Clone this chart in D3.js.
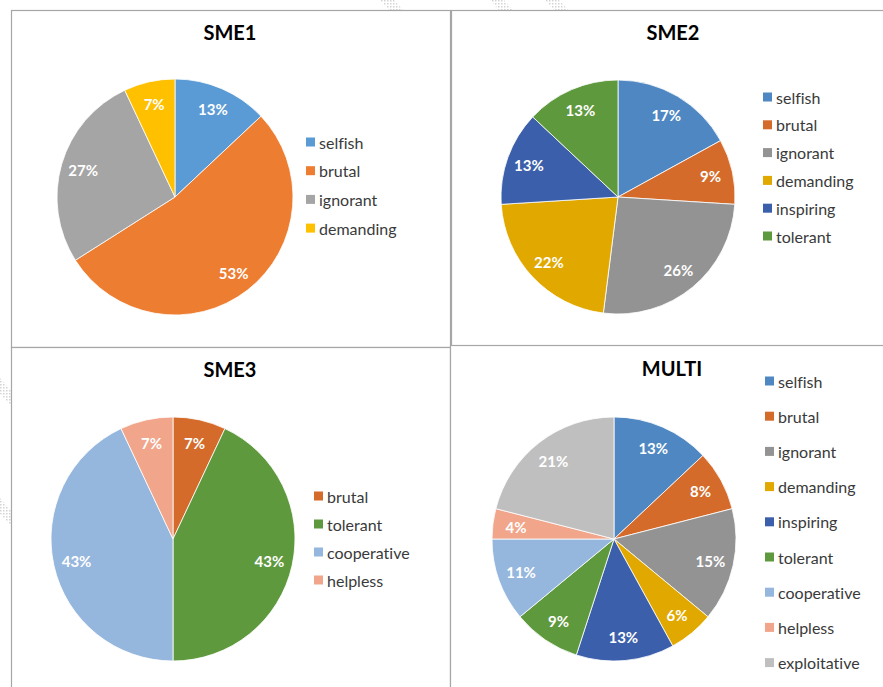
<!DOCTYPE html>
<html>
<head>
<meta charset="utf-8">
<script src="https://cdn.jsdelivr.net/npm/d3@7"></script>
<style>
  body { margin: 0; background: #fff; }
  svg { display: block; font-family: Lato, "Open Sans", sans-serif; font-variant-ligatures: none; }
</style>
</head>
<body>
<div id="chart"></div>
<script>
// Dữ liệu (phần trăm)
const sme1Labels = ['selfish', 'brutal', 'ignorant', 'demanding'];
const sme1Values = [13, 53, 27, 7];
const sme1Colors = ['#5B9BD5', '#ED7D31', '#A5A5A5', '#FFC000'];

const sme2Labels = ['selfish', 'brutal', 'ignorant', 'demanding', 'inspiring', 'tolerant'];
const sme2Values = [17, 9, 26, 22, 13, 13];

const sme3Labels = ['brutal', 'tolerant', 'cooperative', 'helpless'];
const sme3Values = [7, 43, 43, 7];

const multiLabels = ['selfish', 'brutal', 'ignorant', 'demanding', 'inspiring', 'tolerant', 'cooperative', 'helpless', 'exploitative'];
const multiValues = [13, 8, 15, 6, 13, 9, 11, 4, 21];

// Màu dùng cho SME2, SME3, MULTI
const darkColors = {
    selfish: '#4E87C2', brutal: '#D46B2B', ignorant: '#939393', demanding: '#E1A800',
    inspiring: '#3B5FAA', tolerant: '#5F993E', cooperative: '#95B6DD',
    helpless: '#F1A58A', exploitative: '#BFBFBF'
};

const W = 883, H = 687;
const svg = d3.select('#chart').append('svg')
    .attr('width', W).attr('height', H)
    .attr('viewBox', `0 0 ${W} ${H}`);

// Vân chéo mờ ở nền (watermark)
const pat = svg.append('defs').append('pattern')
    .attr('id', 'hatch').attr('width', 3).attr('height', 3)
    .attr('patternUnits', 'userSpaceOnUse');
pat.append('rect').attr('width', 3).attr('height', 3).attr('fill', '#fff');
pat.append('rect').attr('width', 1.5).attr('height', 1.5).attr('fill', '#d4d4d4');
const bands = [[380, 0], [490, 0], [545, 0], [-30, 360], [-30, 480]];
svg.append('g').selectAll('path').data(bands).enter().append('path')
    .attr('d', d => `M${d[0]},${d[1]} l14,0 l40,45 l-14,0 Z`)
    .attr('fill', 'url(#hatch)');

// Khung các biểu đồ
const panels = [
    { x: 11, y: 10, w: 439, h: 337 },
    { x: 451, y: 10, w: 440, h: 336 },
    { x: 11, y: 347, w: 439, h: 350 },
    { x: 450, y: 345, w: 440, h: 350 }
];
svg.append('g').selectAll('rect').data(panels).enter().append('rect')
    .attr('x', d => d.x + 0.5).attr('y', d => d.y + 0.5)
    .attr('width', d => d.w).attr('height', d => d.h)
    .attr('fill', '#fff').attr('stroke', '#a6a6a6').attr('stroke-width', 1.2);

const charts = [
    { title: 'SME1', labels: sme1Labels, values: sme1Values, colors: sme1Colors,
      cx: 175, cy: 197, r: 118, tx: 230, ty: 40, lx: 306, ly: 142, ldy: 28.7 },
    { title: 'SME2', labels: sme2Labels, values: sme2Values, colors: sme2Labels.map(l => darkColors[l]),
      cx: 618, cy: 197, r: 117, tx: 673, ty: 40, lx: 763, ly: 97, ldy: 27.8 },
    { title: 'SME3', labels: sme3Labels, values: sme3Values, colors: sme3Labels.map(l => darkColors[l]),
      cx: 173, cy: 539, r: 122, tx: 230, ty: 377, lx: 314, ly: 496, ldy: 28 },
    { title: 'MULTI', labels: multiLabels, values: multiValues, colors: multiLabels.map(l => darkColors[l]),
      cx: 614, cy: 539, r: 122, tx: 672, ty: 376, lx: 765, ly: 381, ldy: 35.2 }
];

const pie = d3.pie().sort(null).value(d => d.value);

charts.forEach(c => {
    const data = c.labels.map((l, i) => ({ label: l, value: c.values[i], color: c.colors[i] }));
    const arcs = pie(data);
    const arc = d3.arc().innerRadius(0).outerRadius(c.r);
    const labelArc = d3.arc().innerRadius(c.r * 0.81).outerRadius(c.r * 0.81);

    const g = svg.append('g').attr('transform', `translate(${c.cx},${c.cy})`);
    g.selectAll('path').data(arcs).enter().append('path')
        .attr('d', arc)
        .attr('fill', d => d.data.color)
        .attr('stroke', '#fff').attr('stroke-width', 0.8);

    g.selectAll('text').data(arcs).enter().append('text')
        .attr('transform', d => `translate(${labelArc.centroid(d)})`)
        .attr('text-anchor', 'middle')
        .attr('dominant-baseline', 'central')
        .attr('fill', '#fff')
        .attr('font-size', '15px')
        .attr('font-weight', 'bold')
        .text(d => d.data.value + '%');

    // Tiêu đề
    svg.append('text')
        .attr('x', c.tx).attr('y', c.ty)
        .attr('text-anchor', 'middle')
        .attr('font-size', '20px').attr('font-weight', 'bold')
        .attr('fill', '#000')
        .text(c.title);

    // Chú giải
    const leg = svg.append('g').selectAll('g').data(data).enter().append('g')
        .attr('transform', (d, i) => `translate(${c.lx},${c.ly + i * c.ldy})`);
    leg.append('rect')
        .attr('x', 0).attr('y', -4.5).attr('width', 9).attr('height', 9)
        .attr('fill', d => d.color);
    leg.append('text')
        .attr('x', 13).attr('y', 0)
        .attr('dominant-baseline', 'central')
        .attr('font-size', '16px').attr('fill', '#3a3a3a')
        .text(d => d.label);
});
</script>
</body>
</html>
